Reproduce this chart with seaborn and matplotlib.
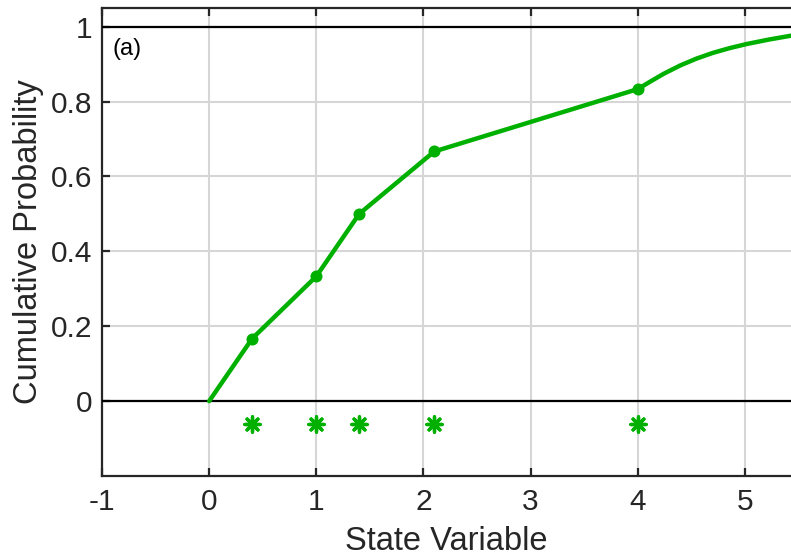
import numpy as np
import pandas as pd
import seaborn as sns
import matplotlib
matplotlib.use("Agg")
import matplotlib.pyplot as plt

# Data
sample_x = [0.4, 1.0, 1.4, 2.1, 4.0]
cdf_x = [0.0, 0.4, 1.0, 1.4, 2.1, 4.0]
cdf_y = [0.0, 1/6, 1/3, 0.5, 2/3, 5/6]
tail_x = [4.12, 4.24, 4.4, 4.55, 4.7, 4.86, 5.02, 5.23, 5.43, 5.6]
tail_y = [0.854, 0.874, 0.897, 0.915, 0.930, 0.943, 0.954, 0.966, 0.976, 0.983]
star_y = [-0.06] * len(sample_x)
xticks = [-1, 0, 1, 2, 3, 4, 5]
yticks = [0, 0.2, 0.4, 0.6, 0.8, 1]
ytick_labels = ["0", "0.2", "0.4", "0.6", "0.8", "1"]

sns.set_theme(style="white")
plt.rcParams['font.family'] = ['Liberation Sans', 'DejaVu Sans']
plt.rcParams['axes.unicode_minus'] = False

green = "#00B000"
fig = plt.figure(figsize=(7.91, 5.58), dpi=100)
ax = fig.add_axes([0.129, 0.147, 0.871, 0.8387])

line_df = pd.DataFrame({"x": cdf_x + tail_x, "y": cdf_y + tail_y})
sns.lineplot(data=line_df, x="x", y="y", ax=ax, color=green, linewidth=3.2,
             sort=False, estimator=None, zorder=4)
pts_df = pd.DataFrame({"x": cdf_x[1:], "y": cdf_y[1:]})
sns.scatterplot(data=pts_df, x="x", y="y", ax=ax, color=green, s=75,
                edgecolor=green, linewidth=0, zorder=5)
star_df = pd.DataFrame({"x": sample_x, "y": star_y})
sns.scatterplot(data=star_df, x="x", y="y", ax=ax, color=green,
                marker=(8, 2, 0), s=120, linewidth=2.4, edgecolor=green, zorder=5)

ax.axhline(0, color="black", linewidth=1.6, zorder=3)
ax.axhline(1, color="black", linewidth=1.6, zorder=3)

ax.set_xlim(-1, 5.43)
ax.set_ylim(-0.2, 1.05)
ax.set_xticks(xticks)
ax.set_yticks(yticks)
ax.set_yticklabels(ytick_labels)
ax.grid(True, color="#d6d6d6", linewidth=1.5)
ax.set_axisbelow(True)

for side in ["left", "bottom", "top"]:
    ax.spines[side].set_visible(True)
    ax.spines[side].set_color("#262626")
    ax.spines[side].set_linewidth(1.6)
ax.spines["right"].set_visible(False)

ax.tick_params(axis="both", direction="in", length=6, width=1.6, color="#262626",
               labelsize=21.5, labelcolor="#262626")
ax.tick_params(axis="x", top=True, bottom=True, pad=9)
ax.tick_params(axis="y", left=True, right=False, pad=7)

ax.set_xlabel("State Variable", fontsize=23.5, color="#262626", labelpad=7)
ax.set_ylabel("Cumulative Probability", fontsize=23.5, color="#262626", labelpad=5)
ax.text(-0.905, 0.94, "(a)", fontsize=17, color="black", va="center", ha="left")

fig.savefig("out.png", dpi=100)
